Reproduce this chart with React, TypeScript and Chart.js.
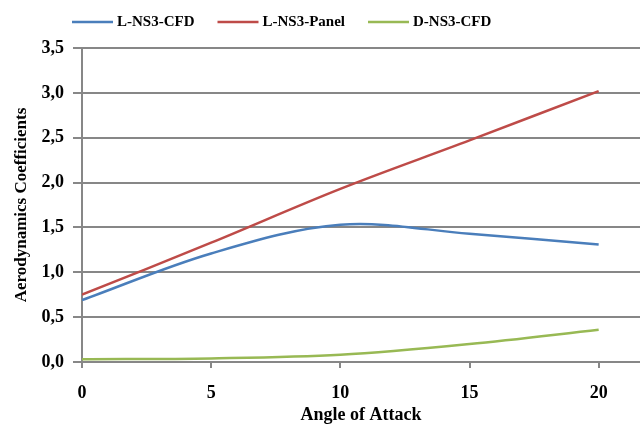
import { useEffect, useRef } from "react";
import { Chart, registerables } from "chart.js";

Chart.register(...registerables);

const angles = [0, 5, 10, 15, 20];
const liftCFD = [0.69, 1.21, 1.53, 1.43, 1.31];
const liftPanel = [0.75, 1.33, 1.93, 2.47, 3.02];
const dragCFD = [0.03, 0.04, 0.08, 0.2, 0.36];
const seriesNames = ["L-NS3-CFD", "L-NS3-Panel", "D-NS3-CFD"];
const seriesColors = ["#4A7EBB", "#BE4B48", "#98B954"];
const xTickValues = [0, 5, 10, 15, 20];
const yTickValues = [0, 0.5, 1, 1.5, 2, 2.5, 3, 3.5];
const xTitle = "Angle of Attack";
const yTitle = "Aerodynamics Coefficients";

const FONT = "'Liberation Serif', 'Times New Roman', serif";
const GRID = "#878787";

const legendPlugin = {
  id: "topLegend",
  afterDraw(chart: any) {
    const ctx = chart.ctx as CanvasRenderingContext2D;
    ctx.save();
    ctx.font = `bold 15px ${FONT}`;
    ctx.textBaseline = "middle";
    ctx.textAlign = "left";
    let x = 72;
    const y = 22;
    chart.data.datasets.forEach((ds: any) => {
      ctx.strokeStyle = ds.borderColor;
      ctx.lineWidth = 2.5;
      ctx.beginPath();
      ctx.moveTo(x, y);
      ctx.lineTo(x + 41, y);
      ctx.stroke();
      ctx.fillStyle = "#000";
      ctx.fillText(ds.label, x + 45, y);
      x += 45 + ctx.measureText(ds.label).width + 23;
    });
    ctx.restore();
  },
};

export default function App() {
  const ref = useRef<HTMLCanvasElement | null>(null);

  useEffect(() => {
    if (!ref.current) return;
    const toPts = (ys: number[]) => angles.map((a, i) => ({ x: a, y: ys[i] }));
    const series = [liftCFD, liftPanel, dragCFD];
    const chart = new Chart(ref.current, {
      type: "line",
      data: {
        datasets: series.map((ys, i) => ({
          label: seriesNames[i],
          data: toPts(ys),
          borderColor: seriesColors[i],
          backgroundColor: seriesColors[i],
          borderWidth: 2.5,
          pointRadius: 0,
          tension: 0.34,
          fill: false,
        })),
      },
      options: {
        animation: false,
        responsive: false,
        devicePixelRatio: 1,
        layout: { padding: { top: 48, left: 0, right: 0, bottom: 0 } },
        plugins: {
          legend: { display: false },
          tooltip: { enabled: false },
        },
        scales: {
          x: {
            type: "linear",
            min: 0,
            max: 21.6,
            afterFit: (s: any) => {
              s.height = 63;
            },
            afterBuildTicks: (s: any) => {
              s.ticks = xTickValues.map((v) => ({ value: v }));
            },
            ticks: {
              color: "#000",
              font: { family: FONT, size: 18, weight: "bold" },
              padding: 15,
              maxRotation: 0,
              callback: (v: any) => String(v),
            },
            grid: {
              display: true,
              drawOnChartArea: false,
              drawTicks: true,
              tickLength: 6,
              color: GRID,
              lineWidth: 2,
            },
            border: { display: true, color: GRID, width: 2 },
            title: {
              display: true,
              text: xTitle,
              color: "#000",
              font: { family: FONT, size: 18, weight: "bold" },
              padding: { top: 0, bottom: -1 },
            },
          },
          y: {
            type: "linear",
            min: 0,
            max: 3.5,
            afterFit: (s: any) => {
              s.width = 82;
            },
            afterBuildTicks: (s: any) => {
              s.ticks = yTickValues.map((v) => ({ value: v }));
            },
            ticks: {
              color: "#000",
              font: { family: FONT, size: 18, weight: "bold" },
              padding: 9,
              callback: (v: any) => Number(v).toFixed(1).replace(".", ","),
            },
            grid: {
              color: GRID,
              lineWidth: 2,
              tickLength: 9,
            },
            border: { display: true, color: GRID, width: 2 },
            title: {
              display: true,
              text: yTitle,
              color: "#000",
              font: { family: FONT, size: 17, weight: "bold" },
              padding: { top: 11, bottom: 0 },
            },
          },
        },
      },
      plugins: [legendPlugin],
    });
    return () => chart.destroy();
  }, []);

  return (
    <div style={{ position: "fixed", left: 0, top: 0, width: 640, height: 425, background: "#fff" }}>
      <canvas ref={ref} width={640} height={425} style={{ display: "block", width: 640, height: 425 }} />
    </div>
  );
}
